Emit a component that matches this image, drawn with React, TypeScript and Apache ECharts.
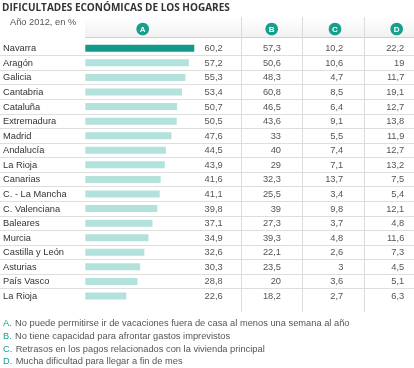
import React, { useEffect, useRef } from "react";
import * as echarts from "echarts";

const regions = [
  "Navarra", "Aragón", "Galicia", "Cantabria", "Cataluña", "Extremadura", "Madrid",
  "Andalucía", "La Rioja", "Canarias", "C. - La Mancha", "C. Valenciana", "Baleares",
  "Murcia", "Castilla y León", "Asturias", "País Vasco", "La Rioja",
];
const valuesA = [60.2, 57.2, 55.3, 53.4, 50.7, 50.5, 47.6, 44.5, 43.9, 41.6, 41.1, 39.8, 37.1, 34.9, 32.6, 30.3, 28.8, 22.6];
const valuesB = [57.3, 50.6, 48.3, 60.8, 46.5, 43.6, 33, 40, 29, 32.3, 25.5, 39, 27.3, 39.3, 22.1, 23.5, 20, 18.2];
const valuesC = [10.2, 10.6, 4.7, 8.5, 6.4, 9.1, 5.5, 7.4, 7.1, 13.7, 3.4, 9.8, 3.7, 4.8, 2.6, 3, 3.6, 2.7];
const valuesD = [22.2, 19, 11.7, 19.1, 12.7, 13.8, 11.9, 12.7, 13.2, 7.5, 5.4, 12.1, 4.8, 11.6, 7.3, 4.5, 5.1, 6.3];
const columnLetters = ["A", "B", "C", "D"];
const notes = [
  "No puede permitirse ir de vacaciones fuera de casa al menos una semana al año",
  "No tiene capacidad para afrontar gastos imprevistos",
  "Retrasos en los pagos relacionados con la vivienda principal",
  "Mucha dificultad para llegar a fin de mes",
];
const title = "DIFICULTADES ECONÓMICAS DE LOS HOGARES";
const subtitle = "Año 2012, en %";

const fmt = (v: number) => String(v).replace(".", ",");
const FONT = "'Liberation Sans', Arial, sans-serif";
const DARK = "#12998a";
const LIGHT = "#b3e1dc";

const GRID_LEFT = 85;
const GRID_RIGHT_EDGE = 194.3;
const GRID_TOP = 41;
const GRID_H = 262.3;

export default function App() {
  const ref = useRef<HTMLDivElement>(null);
  useEffect(() => {
    if (!ref.current) return;
    const chart = echarts.init(ref.current, undefined, { renderer: "svg" });
    const valueAxis = (vals: number[], rightEdge: number) => ({
      type: "category" as const,
      gridIndex: 0,
      data: regions,
      inverse: true,
      position: "right" as const,
      offset: rightEdge - GRID_RIGHT_EDGE,
      axisLine: { show: false },
      axisTick: { show: false },
      splitLine: { show: false },
      axisLabel: {
        interval: 0,
        margin: 0,
        align: "right" as const,
        fontFamily: FONT,
        fontSize: 9.3,
        color: "#555",
        formatter: (_: string, i: number) => fmt(vals[i]),
      },
    });
    const circleX = [142.7, 271.7, 335, 396.7];
    const graphics: any[] = [
      {
        type: "rect",
        z: -1,
        shape: { x: 85, y: 17, width: 329, height: 20 },
        style: {
          fill: new echarts.graphic.LinearGradient(0, 0, 0, 1, [
            { offset: 0, color: "#ffffff" },
            { offset: 1, color: "#f1f1f1" },
          ]),
        },
      },
      { type: "line", shape: { x1: 85, y1: 37.5, x2: 414, y2: 37.5 }, style: { stroke: "#cfcfcf", lineWidth: 1 } },
      ...[241.5, 302.5, 364.5].map((x) => ({
        type: "line",
        shape: { x1: x, y1: 17, x2: x, y2: 312 },
        style: { stroke: "#dcdcdc", lineWidth: 1 },
      })),
      ...columnLetters.map((l, i) => ({
        type: "group",
        children: [
          { type: "circle", shape: { cx: circleX[i], cy: 29, r: 6.3 }, style: { fill: "#16a08b" } },
          {
            type: "text",
            x: circleX[i],
            y: 29.5,
            style: {
              text: l,
              fill: "#fff",
              font: `bold 8px ${FONT}`,
              textAlign: "center",
              textVerticalAlign: "middle",
            },
          },
        ],
      })),
      {
        type: "text",
        x: 2,
        y: 7,
        style: {
          text: title,
          fill: "#333",
          font: "bold 10px 'Open Sans', sans-serif",
          textVerticalAlign: "middle",
        },
      },
      {
        type: "text",
        x: 10,
        y: 22,
        style: { text: subtitle, fill: "#555", font: `9.3px ${FONT}`, textVerticalAlign: "middle" },
      },
      ...notes.map((n, i) => ({
        type: "text",
        x: 3,
        y: 323.3 + i * 12.6,
        style: {
          text: `{l|${columnLetters[i]}.} {t|${n}}`,
          textVerticalAlign: "middle",
          rich: {
            l: { fill: "#1a9e8c", font: `9.3px ${FONT}` },
            t: { fill: "#555", font: `9.3px ${FONT}` },
          },
        },
      })),
    ];
    chart.setOption({
      animation: false,
      grid: [
        { left: GRID_LEFT, top: GRID_TOP, width: GRID_RIGHT_EDGE - GRID_LEFT, height: GRID_H },
        { left: 0, top: GRID_TOP, width: 414, height: GRID_H },
      ],
      xAxis: [
        { type: "value", gridIndex: 0, min: 0, max: 60.2, show: false },
        { type: "value", gridIndex: 1, min: 0, max: 1, show: false },
      ],
      yAxis: [
        {
          type: "category",
          gridIndex: 0,
          data: regions,
          inverse: true,
          position: "left",
          axisLine: { show: false },
          axisTick: { show: false },
          splitLine: { show: false },
          axisLabel: {
            margin: GRID_LEFT - 2.7,
            align: "left",
            fontFamily: FONT,
            fontSize: 9.3,
            color: "#333",
            interval: 0,
          },
        },
        valueAxis(valuesA, 222.7),
        valueAxis(valuesB, 281),
        valueAxis(valuesC, 343.3),
        valueAxis(valuesD, 404.3),
        {
          type: "category",
          gridIndex: 1,
          data: regions,
          inverse: true,
          axisLine: { show: false },
          axisTick: { show: false, interval: 0 },
          axisLabel: { show: false, interval: 0 },
          splitLine: {
            show: true,
            interval: 0,
            showMinLine: false,
            showMaxLine: false,
            lineStyle: { color: "#dedede", width: 1 },
          },
        },
      ],
      series: [
        {
          type: "bar",
          xAxisIndex: 0,
          yAxisIndex: 0,
          barWidth: 7,
          silent: true,
          data: valuesA.map((v, i) => ({ value: v, itemStyle: { color: i === 0 ? DARK : LIGHT } })),
        },
      ],
      graphic: graphics,
    });
    return () => chart.dispose();
  }, []);
  return <div ref={ref} style={{ position: "fixed", left: 0, top: 0, width: 414, height: 368 }} />;
}
